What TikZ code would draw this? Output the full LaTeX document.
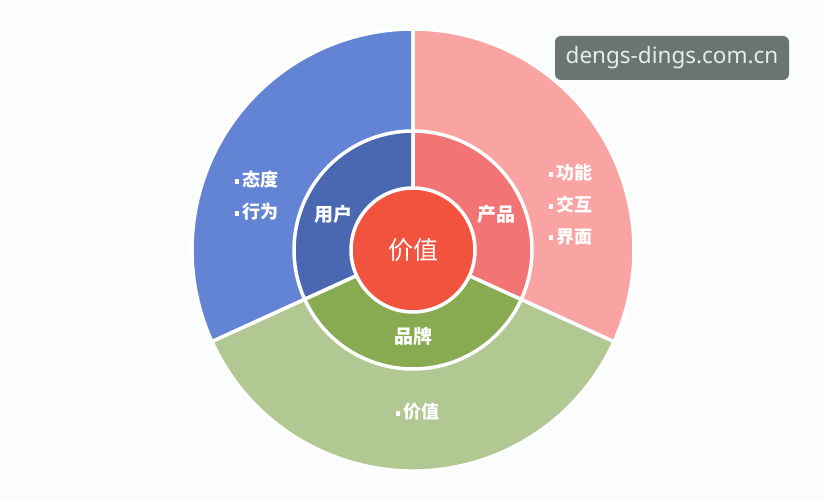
\documentclass[tikz,border=0pt]{standalone}
\usepackage{fontspec}
\setmainfont{Noto Sans CJK SC}
\newfontfamily\latinfont{Noto Sans}
\usetikzlibrary{positioning,calc}

\definecolor{bgcol}{HTML}{FBFDFC}
\definecolor{userout}{HTML}{6383D4}
\definecolor{userin}{HTML}{4A68B2}
\definecolor{prodout}{HTML}{F9A3A3}
\definecolor{prodin}{HTML}{F27474}
\definecolor{brandout}{HTML}{B2C892}
\definecolor{brandin}{HTML}{88AB52}
\definecolor{coreval}{HTML}{F2533F}
\definecolor{markbg}{HTML}{6A7472}
\definecolor{marktext}{HTML}{E4ECEC}

\newcommand{\pt}{\raisebox{3pt}{\rule{4pt}{5pt}}\hspace{3pt}}

\begin{document}
\begin{tikzpicture}[x=1pt,y=1pt]

	\tikzset{
		sep/.style={draw=white, line width=3.5pt, line join=round},
		ringlbl/.style={text=white, inner sep=0pt, font=\bfseries\fontsize{19}{19}\selectfont},
		itemlbl/.style={text=white, inner sep=0pt, anchor=west, font=\bfseries\fontsize{18}{18}\selectfont},
		sitebox/.style={fill=markbg, rounded corners=6pt, minimum width=234pt,
			minimum height=44pt, text=marktext, font=\latinfont\fontsize{22.5}{22.5}\selectfont}
	}

	% ===== NỀN =====
	\fill[bgcol] (0,0) rectangle (824,500);
	\useasboundingbox (0,0) rectangle (824,500);

	\coordinate (o) at (413,250);

	% ===== VÒNG NGOÀI =====
	\filldraw[fill=userout, sep] (o) -- ++(90:221)
		arc[start angle=90, end angle=204.5, radius=221] -- cycle;
	\filldraw[fill=brandout, sep] (o) -- ++(204.5:221)
		arc[start angle=204.5, end angle=335.5, radius=221] -- cycle;
	\filldraw[fill=prodout, sep] (o) -- ++(-24.5:221)
		arc[start angle=-24.5, end angle=90, radius=221] -- cycle;

	% ===== VÒNG GIỮA =====
	\filldraw[fill=userin, sep] (o) -- ++(90:119)
		arc[start angle=90, end angle=204.5, radius=119] -- cycle;
	\filldraw[fill=brandin, sep] (o) -- ++(204.5:119)
		arc[start angle=204.5, end angle=335.5, radius=119] -- cycle;
	\filldraw[fill=prodin, sep] (o) -- ++(-24.5:119)
		arc[start angle=-24.5, end angle=90, radius=119] -- cycle;

	% ===== LÕI =====
	\filldraw[fill=coreval, sep] (o) circle[radius=62];
	\node[ringlbl, font=\fontsize{25}{25}\selectfont] (core) at (o) {价值};

	% ===== NHÃN VÒNG GIỮA =====
	\node[ringlbl] (user) at (333,286) {用户};
	\node[ringlbl] (prod) at (496,286) {产品};
	\node[ringlbl] (brand) at (413,164) {品牌};

	% ===== MỤC VÒNG NGOÀI =====
	\node[itemlbl] (u1) at (235,320) {\pt 态度};
	\node[itemlbl] (u2) at (235,288) {\pt 行为};

	\node[itemlbl] (p1) at (549,327) {\pt 功能};
	\node[itemlbl] (p2) at (549,295) {\pt 交互};
	\node[itemlbl] (p3) at (549,263) {\pt 界面};

	\node[itemlbl] (b1) at (396,88) {\pt 价值};

	% ===== WATERMARK =====
	\node[sitebox] (site) at (672,442) {dengs-dings.com.cn};

\end{tikzpicture}
\end{document}
